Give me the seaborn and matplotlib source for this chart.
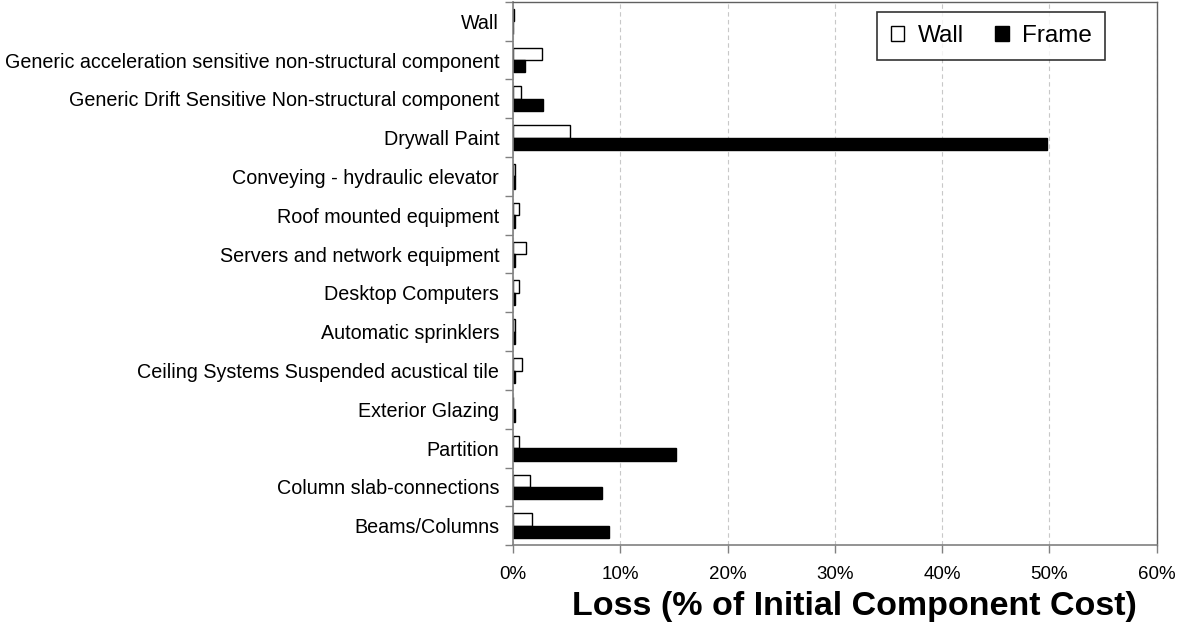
import numpy as np
import pandas as pd
import matplotlib
matplotlib.use("Agg")
import matplotlib.pyplot as plt
import seaborn as sns
from matplotlib.ticker import PercentFormatter, FixedLocator

components = [
    "Wall",
    "Generic acceleration sensitive non-structural component",
    "Generic Drift Sensitive Non-structural component",
    "Drywall Paint",
    "Conveying - hydraulic elevator",
    "Roof mounted equipment",
    "Servers and network equipment",
    "Desktop Computers",
    "Automatic sprinklers",
    "Ceiling Systems Suspended acustical tile",
    "Exterior Glazing",
    "Partition",
    "Column slab-connections",
    "Beams/Columns",
]
wall_loss = [0.1, 2.7, 0.7, 5.3, 0.2, 0.6, 1.2, 0.6, 0.2, 0.8, 0.0, 0.6, 1.6, 1.8]
frame_loss = [0.0, 1.1, 2.8, 49.8, 0.2, 0.2, 0.2, 0.2, 0.2, 0.2, 0.2, 15.2, 8.3, 8.9]

df = pd.DataFrame({
    "component": components * 2,
    "loss": wall_loss + frame_loss,
    "system": ["Wall"] * len(components) + ["Frame"] * len(components),
})

sns.set_style("white")
plt.rcParams["font.family"] = ["Liberation Sans", "DejaVu Sans"]
plt.rcParams["text.color"] = "black"
plt.rcParams["xtick.color"] = "black"
plt.rcParams["ytick.color"] = "black"
plt.rcParams["axes.labelcolor"] = "black"

fig = plt.figure(figsize=(11.78, 6.23), dpi=100)
ax = fig.add_axes([0.4355, 0.125, 0.5465, 0.872])

sns.barplot(data=df, y="component", x="loss", hue="system", orient="h",
            order=components, hue_order=["Wall", "Frame"],
            palette={"Wall": "white", "Frame": "black"},
            edgecolor="black", linewidth=1.0, width=0.64, ax=ax)

ax.set_xlim(0, 60)
ax.set_ylim(len(components) - 0.5, -0.5)
ax.xaxis.set_major_locator(FixedLocator(np.arange(0, 61, 10)))
ax.xaxis.set_major_formatter(PercentFormatter(decimals=0))
ax.grid(axis="x", color="#c8c8c8", linestyle=(0, (4, 3)), linewidth=0.8)
ax.set_axisbelow(True)

# y ticks at category boundaries
ax.set_yticks(np.arange(len(components)))
ax.set_yticklabels(components)
ax.set_yticks(np.arange(-0.5, len(components), 1.0), minor=True)
ax.tick_params(axis="y", which="major", length=0, labelsize=14.2, pad=10)
ax.tick_params(axis="y", which="minor", length=6, color="#808080", width=1, direction="out", left=True)
ax.tick_params(axis="x", which="major", length=6, color="#808080", width=1, direction="out",
               bottom=True, labelsize=13.5, pad=9)

for side in ["left", "bottom"]:
    ax.spines[side].set_color("#808080")
    ax.spines[side].set_linewidth(1.2)
for side in ["top", "right"]:
    ax.spines[side].set_visible(True)
    ax.spines[side].set_color("#606060")
    ax.spines[side].set_linewidth(1.0)

ax.set_ylabel("")
ax.set_xlabel("Loss (% of Initial Component Cost)", fontsize=24.5, fontweight="bold", labelpad=6)
ax.xaxis.label.set_x(0.53)

leg = ax.legend(loc="upper right", bbox_to_anchor=(0.92, 0.982), ncol=2, fontsize=17.5,
                frameon=True, fancybox=False, edgecolor="black", handlelength=0.55,
                handleheight=0.55, handletextpad=0.55, columnspacing=1.3,
                borderpad=0.55, borderaxespad=0)
leg.get_frame().set_linewidth(1.2)

fig.savefig("out.png", dpi=100)
